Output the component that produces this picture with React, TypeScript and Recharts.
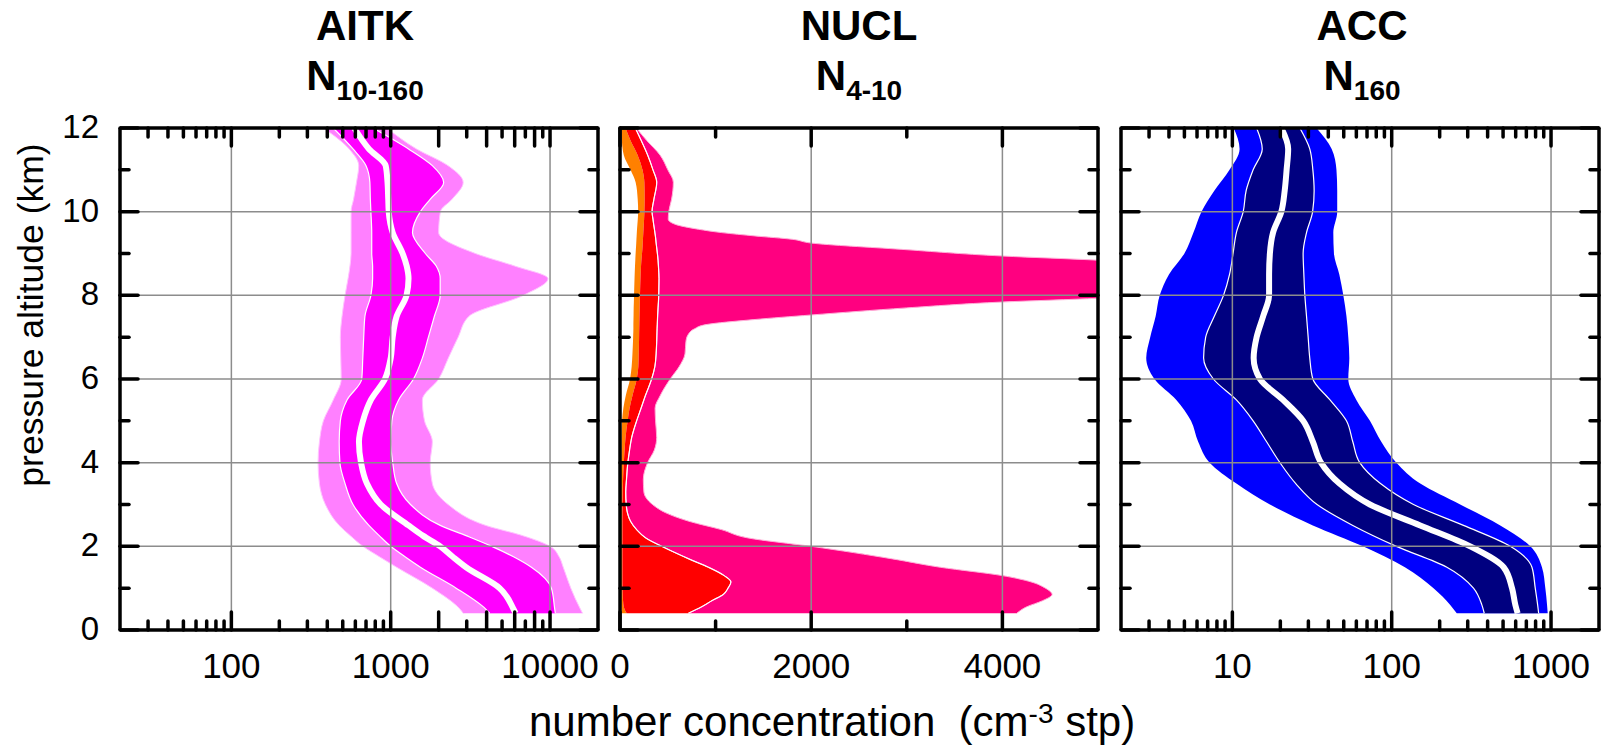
import React from 'react';
import { ComposedChart, Area, Line, XAxis, YAxis, ReferenceLine } from 'recharts';

const FONT = '"Liberation Sans", Arial, Helvetica, sans-serif';
const PLOT_W = 478;
const PLOT_H = 502;
const TOP = 128;
const CHART_H = 747;

// ---- AITK  N10-160 (cm-3), percentile profiles vs pressure altitude (km)
const aitkAlt = [0.4, 0.5, 1.0, 1.5, 1.75, 2.0, 2.25, 2.5, 3.0, 3.5, 4.0, 4.5, 5.0, 5.5, 6.0, 6.5, 7.0, 7.5, 8.0, 8.4, 8.7, 9.0, 9.5, 10.0, 10.3, 10.7, 11.1, 11.5, 12.0];
const aitkP10 = [2850, 2720, 1825, 1090, 850, 670, 560, 475, 389, 357, 350, 357, 378, 436, 489, 486, 483, 495, 517, 540, 555, 564, 564, 564, 585, 610, 630, 548, 378];
const aitkP25 = [4180, 3950, 2575, 1536, 1230, 1000, 850, 730, 580, 517, 480, 475, 483, 532, 658, 668, 677, 689, 751, 770, 770, 760, 760, 751, 745, 740, 700, 580, 436];
const aitkMed = [6080, 5900, 4830, 2970, 2450, 2045, 1600, 1294, 866, 709, 651, 632, 670, 751, 920, 1000, 1029, 1090, 1257, 1294, 1260, 1188, 1029, 972, 965, 955, 930, 730, 590];
const aitkP75 = [10800, 10700, 10200, 7640, 5900, 4310, 3000, 2045, 1330, 1090, 1030, 1000, 1017, 1121, 1390, 1580, 1724, 1880, 2045, 2045, 1930, 1650, 1370, 1536, 1773, 2150, 1825, 1294, 773];
const aitkP90 = [16000, 15500, 13500, 12100, 11400, 10000, 6800, 3950, 2290, 1825, 1770, 1825, 1630, 1580, 2000, 2300, 2650, 3100, 6800, 9700, 6000, 3400, 2000, 2050, 2430, 2850, 2290, 1450, 944];

// ---- NUCL  N4-10 (cm-3)
const nuclAlt = [0.4, 0.55, 0.7, 0.85, 1.0, 1.15, 1.3, 1.5, 1.7, 2.0, 2.2, 2.4, 2.6, 2.8, 3.0, 3.3, 3.6, 4.0, 4.3, 4.6, 5.0, 5.3, 5.6, 6.0, 6.3, 6.6, 6.9, 7.05, 7.2, 7.3, 7.42, 7.53, 7.7, 7.84, 7.93, 8.1, 8.4, 8.7, 8.84, 8.94, 9.1, 9.25, 9.34, 9.42, 9.5, 9.58, 9.7, 9.82, 10.0, 10.3, 10.7, 11.0, 11.35, 11.7, 12.0];
const nuclLow = [15, 12, 10, 10, 10, 10, 10, 10, 10, 10, 10, 10, 10, 10, 10, 10, 10, 12, 14, 16, 22, 35, 60, 105, 122, 130, 136, 138, 140, 140, 141, 142, 143, 145, 146, 148, 152, 157, 160, 162, 166, 170, 172, 174, 176, 178, 182, 186, 190, 185, 164, 110, 40, 20, 17];
const nuclQ1 = [70, 40, 32, 28, 26, 25, 25, 25, 25, 25, 25, 25, 25, 25, 26, 28, 32, 40, 48, 58, 80, 100, 130, 175, 192, 196, 199, 200, 201, 202, 203, 204, 206, 207, 208, 210, 214, 220, 224, 228, 234, 238, 240, 242, 244, 246, 249, 252, 255, 258, 255, 235, 185, 110, 58];
const nuclQ3 = [715, 850, 960, 1080, 1130, 1160, 1090, 925, 720, 436, 270, 174, 110, 78, 65, 60, 68, 82, 100, 122, 174, 220, 265, 331, 365, 378, 384, 386, 388, 390, 392, 394, 398, 402, 404, 406, 408, 402, 398, 394, 386, 378, 374, 370, 365, 360, 352, 345, 335, 355, 384, 345, 290, 222, 160];
const nuclHigh = [4150, 4250, 4420, 4520, 4450, 4300, 4000, 3350, 2850, 2000, 1340, 1060, 720, 480, 340, 250, 244, 289, 359, 384, 372, 367, 420, 525, 620, 680, 690, 710, 780, 900, 1400, 2000, 3000, 4000, 5000, 5800, 6500, 5800, 5000, 4000, 2940, 2000, 1800, 1412, 1063, 819, 575, 505, 510, 540, 558, 500, 420, 280, 170];

// ---- ACC  N160 (cm-3)
const accAlt = [0.4, 0.6, 1.0, 1.5, 2.0, 2.5, 3.0, 3.5, 4.0, 4.5, 5.0, 5.5, 6.0, 6.5, 7.0, 7.5, 8.0, 8.5, 9.0, 9.5, 10.0, 10.5, 11.0, 11.5, 12.0];
const accP10 = [256, 233, 183, 121, 66, 32, 17.2, 10.6, 7.2, 6.1, 5.5, 4.45, 3.24, 2.88, 3.05, 3.3, 3.5, 4.0, 5.0, 5.7, 6.4, 7.7, 9.6, 11.1, 10.2];
const accP25 = [381, 368, 326, 222, 107, 57, 34, 25, 19.9, 16.4, 13.5, 10.6, 7.6, 6.6, 6.8, 7.7, 8.8, 9.6, 10.1, 10.6, 11.7, 12.2, 13.5, 15.4, 14.2];
const accMed = [617, 597, 569, 504, 311, 151, 73, 47, 36, 32, 27.8, 20.8, 14.9, 13.6, 14.2, 15.6, 17.0, 17.0, 17.2, 18.0, 20.3, 21.3, 21.9, 22.4, 20.3];
const accP75 = [836, 824, 796, 759, 555, 282, 137, 85, 63, 57, 52, 41, 32, 30.6, 29.9, 29.2, 28.5, 28.1, 27.8, 29.2, 31.9, 32.6, 32, 30.6, 26.5];
const accP90 = [953, 944, 921, 877, 741, 480, 269, 151, 107, 86, 73, 60, 53.4, 54.2, 53.4, 52, 49.7, 46.9, 43.4, 43, 45.5, 45.5, 45, 42, 33.7];

// ---- axes
const yTicks = [0, 1, 2, 3, 4, 5, 6, 7, 8, 9, 10, 11, 12];
const yGrid = [2, 4, 6, 8, 10];
const aitkTicks = [30, 40, 50, 60, 70, 80, 90, 100, 200, 300, 400, 500, 600, 700, 800, 900, 1000, 2000, 3000, 4000, 5000, 6000, 7000, 8000, 9000, 10000];
const aitkMajor = [100, 1000, 10000];
const nuclTicks = [0, 1000, 2000, 3000, 4000];
const nuclMajor = [0, 2000, 4000];
const nuclGrid = [2000, 4000];
const accTicks = [3, 4, 5, 6, 7, 8, 9, 10, 20, 30, 40, 50, 60, 70, 80, 90, 100, 200, 300, 400, 500, 600, 700, 800, 900, 1000];
const accMajor = [10, 100, 1000];

const aitkData = aitkAlt.map((alt, i) => ({ alt, outer: [aitkP10[i], aitkP90[i]], inner: [aitkP25[i], aitkP75[i]], med: aitkMed[i] }));
const nuclData = nuclAlt.map((alt, i) => ({ alt, low: [nuclLow[i], nuclQ1[i]], mid: [nuclQ1[i], nuclQ3[i]], high: [nuclQ3[i], nuclHigh[i]], q3: nuclQ3[i] }));
const accData = accAlt.map((alt, i) => ({ alt, outer: [accP10[i], accP90[i]], inner: [accP25[i], accP75[i]], med: accMed[i] }));

const TICK = { stroke: '#000', strokeWidth: 3.5, strokeLinecap: 'round' as const };
const GRID = '#8c8c8c';

const xTick = (majors: number[]) => (p: any) => {
  const v = p.payload.value;
  const isMajor = majors.includes(v);
  const len = isMajor || v % 2000 === 0 ? 18 : 9;
  return (
    <g>
      <line x1={p.x} x2={p.x} y1={p.y} y2={p.y - len} {...TICK} />
      <line x1={p.x} x2={p.x} y1={p.y - PLOT_H} y2={p.y - PLOT_H + len} {...TICK} />
      {isMajor ? (
        <text x={p.x} y={p.y + 48} textAnchor="middle" fontSize={35} fontFamily={FONT} fill="#000">
          {v}
        </text>
      ) : null}
    </g>
  );
};

const yTick = (labels: boolean) => (p: any) => {
  const v = p.payload.value;
  const len = v % 2 === 0 ? 18 : 9;
  return (
    <g>
      <line x1={p.x} x2={p.x + len} y1={p.y} y2={p.y} {...TICK} />
      <line x1={p.x + PLOT_W} x2={p.x + PLOT_W - len} y1={p.y} y2={p.y} {...TICK} />
      {labels && v % 2 === 0 ? (
        <text x={p.x - 21} y={p.y + 10} textAnchor="end" fontSize={33} fontFamily={FONT} fill="#000">
          {v}
        </text>
      ) : null}
    </g>
  );
};

function frame(xMax: number, grid: number[]) {
  return [
    ...grid.map((g) => <ReferenceLine key={'gx' + g} x={g} stroke={GRID} strokeWidth={1.5} />),
    ...yGrid.map((g) => <ReferenceLine key={'gy' + g} y={g} stroke={GRID} strokeWidth={1.5} />),
    <ReferenceLine key="top" y={12} stroke="#000" strokeWidth={3.5} />,
    <ReferenceLine key="right" x={xMax} stroke="#000" strokeWidth={3.5} />,
  ];
}

function axes(domain: [number, number], scale: 'log' | 'linear', ticks: number[], majors: number[], yLabels: boolean) {
  return [
    <XAxis
      key="x"
      type="number"
      scale={scale}
      domain={domain}
      allowDataOverflow
      ticks={ticks}
      interval={0}
      height={1}
      tickSize={0}
      tickMargin={0}
      tickLine={false}
      tick={xTick(majors)}
      axisLine={{ stroke: '#000', strokeWidth: 3.5 }}
    />,
    <YAxis
      key="y"
      type="number"
      dataKey="alt"
      domain={[0, 12]}
      reversed
      allowDataOverflow
      ticks={yTicks}
      interval={0}
      width={1}
      tickSize={0}
      tickMargin={0}
      tickLine={false}
      tick={yTick(yLabels)}
      axisLine={{ stroke: '#000', strokeWidth: 3.5 }}
    />,
  ];
}

// plot area: left = marginLeft + 1 (axis width), bottom = TOP + PLOT_H
function chartBox(left: number, width: number, plotLeft: number) {
  return {
    pos: { position: 'absolute' as const, left, top: 0 },
    width,
    margin: { top: TOP, bottom: CHART_H - TOP - PLOT_H - 1, left: plotLeft - 1, right: width - plotLeft - PLOT_W },
  };
}

function Title({ cx, name, sub }: { cx: number; name: string; sub: string }) {
  return (
    <g fontFamily={FONT} fontWeight="bold" fill="#000">
      <text x={cx} y={40} textAnchor="middle" fontSize={42}>
        {name}
      </text>
      <text x={cx} y={90} textAnchor="middle" fontSize={42}>
        N
        <tspan fontSize={28} dy={10}>
          {sub}
        </tspan>
      </text>
    </g>
  );
}

export default function App() {
  const a = chartBox(0, 620, 120);
  const n = chartBox(600, 520, 20);
  const c = chartBox(1101, 500, 20);
  return (
    <div style={{ position: 'absolute', left: 0, top: 0, width: 1601, height: 747, background: '#fff', overflow: 'hidden' }}>
      <div style={a.pos}>
        <ComposedChart layout="vertical" width={a.width} height={CHART_H} data={aitkData} margin={a.margin}>
          {axes([20, 20000], 'log', aitkTicks, aitkMajor, true)}
          <Area dataKey="outer" type="monotoneY" fill="#ff80ff" fillOpacity={1} stroke="#ffc4ff" strokeWidth={1} isAnimationActive={false} />
          <Area dataKey="inner" type="monotoneY" fill="#ff00ff" fillOpacity={1} stroke="#ffffff" strokeWidth={1.2} isAnimationActive={false} />
          <Line dataKey="med" type="monotoneY" stroke="#ffffff" strokeWidth={6} dot={false} activeDot={false} isAnimationActive={false} />
          {frame(20000, aitkMajor)}
        </ComposedChart>
      </div>
      <div style={n.pos}>
        <ComposedChart layout="vertical" width={n.width} height={CHART_H} data={nuclData} margin={n.margin}>
          {axes([0, 5000], 'linear', nuclTicks, nuclMajor, false)}
          <Area dataKey="low" type="monotoneY" fill="#ff8000" fillOpacity={1} stroke="none" isAnimationActive={false} />
          <Area dataKey="mid" type="monotoneY" fill="#ff0000" fillOpacity={1} stroke="none" isAnimationActive={false} />
          <Area dataKey="high" type="monotoneY" fill="#ff0080" fillOpacity={1} stroke="#ffb0d8" strokeWidth={1} isAnimationActive={false} />
          <Line dataKey="q3" type="monotoneY" stroke="#ffffff" strokeWidth={1.2} dot={false} activeDot={false} isAnimationActive={false} />
          {frame(5000, nuclGrid)}
        </ComposedChart>
      </div>
      <div style={c.pos}>
        <ComposedChart layout="vertical" width={c.width} height={CHART_H} data={accData} margin={c.margin}>
          {axes([2, 2000], 'log', accTicks, accMajor, false)}
          <Area dataKey="outer" type="monotoneY" fill="#0000ff" fillOpacity={1} stroke="none" isAnimationActive={false} />
          <Area dataKey="inner" type="monotoneY" fill="#000080" fillOpacity={1} stroke="#ffffff" strokeWidth={1.2} isAnimationActive={false} />
          <Line dataKey="med" type="monotoneY" stroke="#ffffff" strokeWidth={6} dot={false} activeDot={false} isAnimationActive={false} />
          {frame(2000, accMajor)}
        </ComposedChart>
      </div>
      <svg width={1601} height={747} style={{ position: 'absolute', left: 0, top: 0, pointerEvents: 'none' }}>
        <Title cx={365} name="AITK" sub="10-160" />
        <Title cx={859} name="NUCL" sub="4-10" />
        <Title cx={1362} name="ACC" sub="160" />
        <text transform="translate(43,315) rotate(-90)" textAnchor="middle" fontSize={35.5} fontFamily={FONT} fill="#000">
          pressure altitude (km)
        </text>
        <text x={529} y={736} fontSize={42} fontFamily={FONT} fill="#000" style={{ whiteSpace: 'pre' }}>
          {'number concentration  (cm'}
          <tspan fontSize={28} dy={-13}>
            -3
          </tspan>
          <tspan dy={13}>{' stp)'}</tspan>
        </text>
      </svg>
    </div>
  );
}
